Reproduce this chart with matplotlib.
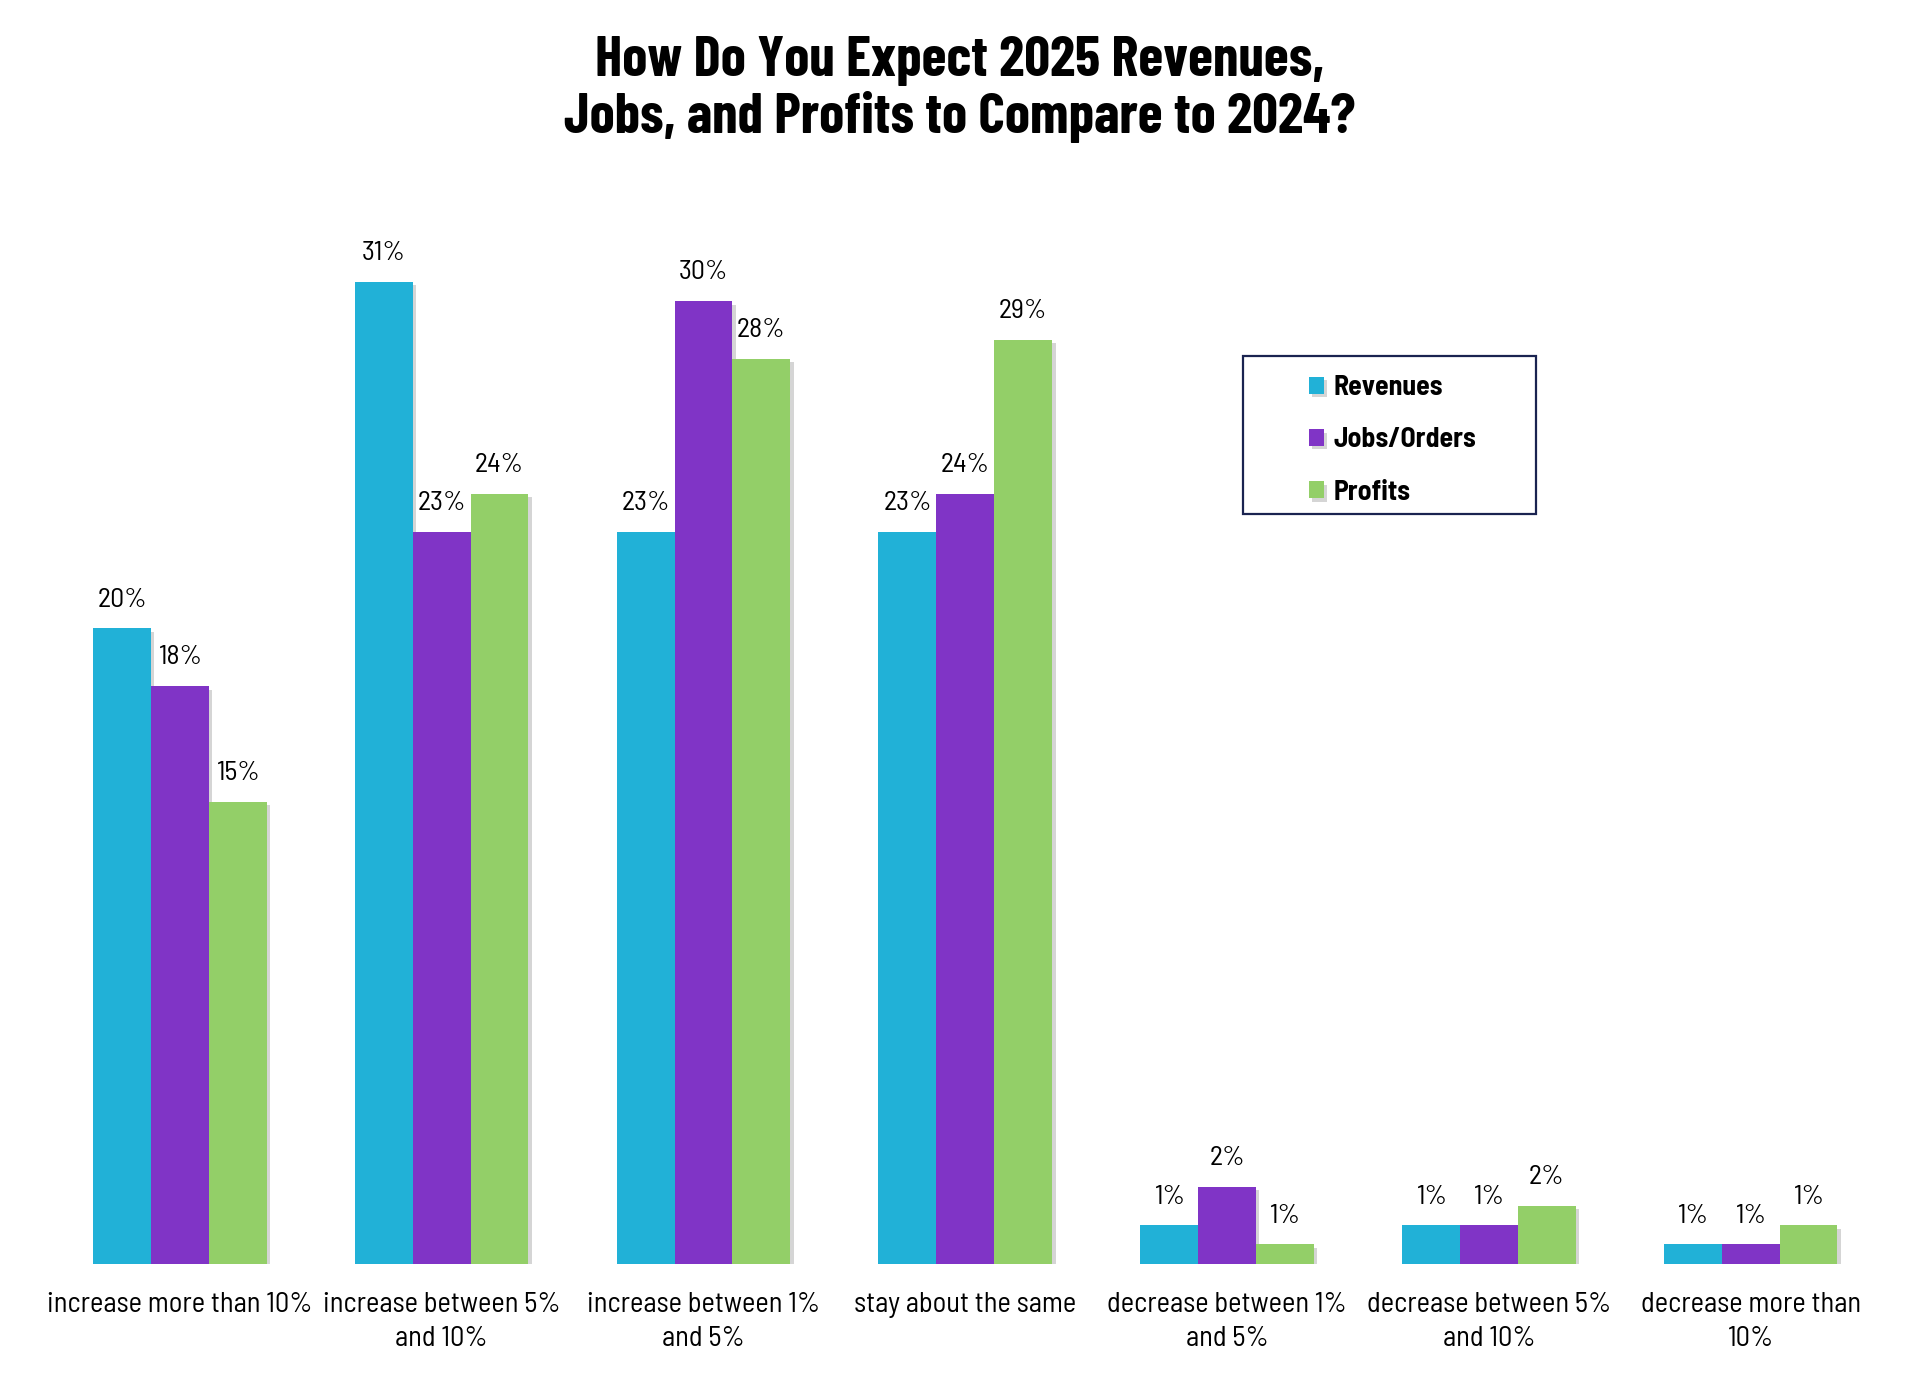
import numpy as np
import matplotlib
matplotlib.use("Agg")
import matplotlib.pyplot as plt
import matplotlib.patheffects as pe
from matplotlib.patches import Rectangle

categories = ["increase more than 10%", "increase between 5%\nand 10%", "increase between 1%\nand 5%",
              "stay about the same", "decrease between 1%\nand 5%", "decrease between 5%\nand 10%",
              "decrease more than\n10%"]
# respondent counts, 165 answers per question
total = 165
revenues = [33, 51, 38, 38, 2, 2, 1]
jobs = [30, 38, 50, 40, 4, 2, 1]
profits = [24, 40, 47, 48, 1, 3, 2]
series_names = ["Revenues", "Jobs/Orders", "Profits"]
colors = ["#21B1D7", "#8034C6", "#93CF68"]

semi = "Barlow Semi Condensed"
cond = "Barlow Condensed"

fig = plt.figure(figsize=(19.2, 13.95), dpi=100)
ax = fig.add_axes([0.0255, 0.0941, 0.9545, 0.797])

x = np.arange(len(categories))
w = 0.221
shadow = [pe.SimplePatchShadow(offset=(2.5, -2.5), shadow_rgbFace="#888888", alpha=0.35), pe.Normal()]
handles = []
for i, (vals, name, c) in enumerate(zip([revenues, jobs, profits], series_names, colors)):
    pct = np.array(vals) / total * 100
    bars = ax.bar(x + (i - 1) * w, pct, width=w, color=c, label=name, zorder=2)
    for b in bars:
        b.set_path_effects(shadow)
    handles.append(bars)
    for xi, p in zip(x + (i - 1) * w, pct):
        ax.annotate(f"{p:.0f}%", (xi, p), xytext=(0, 12), textcoords="offset points",
                    ha="center", va="bottom", family=semi, fontsize=20)

ax.set_xlim(-0.5, len(categories) - 0.5)
ax.set_ylim(0, 35)
ax.set_yticks([])
ax.set_xticks(x)
ax.set_xticklabels(categories, family=semi, fontsize=20.5, linespacing=1.4)
ax.tick_params(axis="x", length=0, pad=20)
for s in ax.spines.values():
    s.set_visible(False)

fig.suptitle("How Do You Expect 2025 Revenues,\nJobs, and Profits to Compare to 2024?",
             family=cond, fontweight="bold", fontsize=41, y=0.9745, linespacing=1.12)

leg = fig.legend(handles=handles, loc="upper left", bbox_to_anchor=(0.6685, 0.749),
                 frameon=False, prop={"family": semi, "weight": "bold", "size": 20},
                 handlelength=0.55, handleheight=0.55, handletextpad=0.35, labelspacing=0.98)
fig.patches.append(Rectangle((0.6475, 0.6315), 0.1525, 0.1131, transform=fig.transFigure,
                             fill=False, edgecolor="#1A2350", linewidth=1.6))

fig.savefig("out.png")
